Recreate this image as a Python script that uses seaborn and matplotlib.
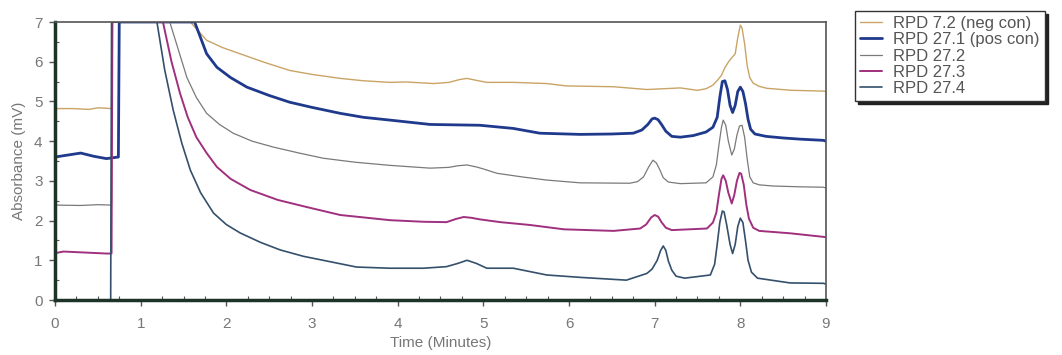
import matplotlib
matplotlib.use("Agg")
import matplotlib.pyplot as plt
import seaborn as sns
import pandas as pd
from matplotlib.ticker import MultipleLocator

# ---------------- data ----------------
labels = ["RPD 7.2 (neg con)", "RPD 27.1 (pos con)", "RPD 27.2", "RPD 27.3", "RPD 27.4"]

t_neg = [0, 0.2, 0.4, 0.5, 0.66, 0.67, 1.58, 1.77, 1.95, 2.16, 2.45, 2.74, 3.0, 3.33, 3.6,
         3.91, 4.1, 4.42, 4.6, 4.72, 4.81, 4.92, 5.04, 5.35, 5.74, 5.97, 6.52, 6.91, 7.3,
         7.5, 7.6, 7.68, 7.74, 7.78, 7.82, 7.86, 7.9, 7.94, 7.97, 8.0, 8.02, 8.05, 8.08,
         8.11, 8.15, 8.22, 8.31, 8.6, 8.97, 9.0]
v_neg = [4.82, 4.82, 4.80, 4.84, 4.82, 7.0, 7.0, 6.54, 6.36, 6.2, 5.98, 5.78, 5.68, 5.58, 5.52,
         5.48, 5.49, 5.45, 5.48, 5.55, 5.58, 5.53, 5.48, 5.48, 5.45, 5.39, 5.37, 5.3, 5.34,
         5.28, 5.32, 5.41, 5.55, 5.66, 5.85, 5.99, 6.1, 6.2, 6.6, 6.92, 6.85, 6.45, 5.9,
         5.6, 5.46, 5.38, 5.33, 5.28, 5.26, 5.25]

t_pos = [0, 0.15, 0.3, 0.45, 0.6, 0.74, 0.75, 1.63, 1.77, 1.89, 2.05, 2.24, 2.5, 2.74, 3.0,
         3.33, 3.6, 3.91, 4.38, 4.96, 5.35, 5.66, 6.13, 6.5, 6.75, 6.85, 6.92, 6.97, 7.0,
         7.04, 7.08, 7.13, 7.2, 7.3, 7.45, 7.6, 7.68, 7.73, 7.76, 7.79, 7.82, 7.85, 7.88,
         7.91, 7.94, 7.97, 8.0, 8.03, 8.06, 8.09, 8.12, 8.17, 8.3, 8.5, 8.7, 8.97, 9.0]
v_pos = [3.6, 3.65, 3.7, 3.62, 3.56, 3.6, 7.0, 7.0, 6.2, 5.86, 5.6, 5.36, 5.15, 4.98, 4.85,
         4.7, 4.6, 4.53, 4.42, 4.4, 4.32, 4.2, 4.17, 4.18, 4.2, 4.28, 4.42, 4.56, 4.58,
         4.54, 4.42, 4.25, 4.12, 4.1, 4.14, 4.23, 4.35, 4.6, 5.1, 5.5, 5.52, 5.3, 4.9,
         4.72, 4.9, 5.25, 5.36, 5.25, 4.95, 4.55, 4.3, 4.18, 4.12, 4.08, 4.05, 4.02, 4.0]

t_272 = [0, 0.3, 0.5, 0.66, 0.67, 1.34, 1.44, 1.54, 1.65, 1.77, 1.92, 2.08, 2.3, 2.55, 2.85,
         3.13, 3.5, 3.91, 4.38, 4.6, 4.7, 4.81, 4.92, 5.0, 5.16, 5.45, 5.74, 6.13, 6.71, 6.8,
         6.87, 6.93, 6.98, 7.02, 7.06, 7.1, 7.16, 7.3, 7.6, 7.68, 7.72, 7.75, 7.78, 7.8,
         7.83, 7.86, 7.9, 7.93, 7.96, 7.99, 8.02, 8.05, 8.08, 8.11, 8.15, 8.22, 8.38, 8.7,
         8.97, 9.0]
v_272 = [2.39, 2.38, 2.4, 2.39, 7.0, 7.0, 6.3, 5.6, 5.1, 4.7, 4.42, 4.2, 4.0, 3.85, 3.7,
         3.57, 3.47, 3.39, 3.32, 3.34, 3.38, 3.4, 3.35, 3.3, 3.19, 3.1, 3.02, 2.95, 2.94, 2.98,
         3.1, 3.35, 3.52, 3.45, 3.28, 3.08, 2.97, 2.93, 2.95, 3.1, 3.4, 3.9, 4.35, 4.53,
         4.4, 4.0, 3.65, 3.8, 4.15, 4.38, 4.4, 4.1, 3.55, 3.1, 2.95, 2.9, 2.87, 2.85,
         2.84, 2.82]

t_273 = [0, 0.1, 0.3, 0.6, 0.66, 0.67, 1.26, 1.36, 1.46, 1.55, 1.65, 1.77, 1.89, 2.05, 2.28,
         2.6, 2.94, 3.33, 3.91, 4.3, 4.57, 4.68, 4.77, 4.86, 4.96, 5.2, 5.54, 5.94, 6.52,
         6.83, 6.9, 6.96, 7.0, 7.04, 7.08, 7.13, 7.2, 7.61, 7.68, 7.72, 7.75, 7.78, 7.8,
         7.83, 7.86, 7.9, 7.93, 7.96, 7.99, 8.01, 8.04, 8.07, 8.1, 8.15, 8.22, 8.58, 8.97,
         9.0]
v_273 = [1.18, 1.22, 1.2, 1.17, 1.17, 7.0, 7.0, 6.0, 5.2, 4.6, 4.1, 3.7, 3.35, 3.05, 2.77,
         2.52, 2.34, 2.14, 2.01, 1.97, 1.96, 2.04, 2.09, 2.07, 2.03, 1.96, 1.89, 1.78, 1.74,
         1.8, 1.9, 2.08, 2.14, 2.1, 1.96, 1.82, 1.76, 1.8, 1.95, 2.2, 2.65, 3.05, 3.14,
         3.0, 2.7, 2.43, 2.65, 3.0, 3.2, 3.18, 2.9, 2.4, 2.05, 1.82, 1.74, 1.68, 1.59,
         1.58]

t_274 = [0, 0.65, 0.66, 1.19, 1.28, 1.38, 1.48, 1.58, 1.7, 1.85, 2.0, 2.16, 2.4, 2.63, 2.9,
         3.13, 3.52, 3.91, 4.3, 4.57, 4.7, 4.81, 4.92, 5.04, 5.35, 5.74, 6.13, 6.67, 6.91,
         6.97, 7.03, 7.07, 7.1, 7.13, 7.16, 7.2, 7.25, 7.35, 7.65, 7.7, 7.73, 7.76, 7.79,
         7.81, 7.84, 7.88, 7.91, 7.94, 7.97, 8.0, 8.03, 8.06, 8.09, 8.13, 8.2, 8.58, 8.97,
         9.0]
v_274 = [0.0, 0.0, 7.0, 7.0, 5.8, 4.78, 3.95, 3.27, 2.7, 2.19, 1.9, 1.69, 1.45, 1.26, 1.1,
         1.0, 0.83, 0.8, 0.8, 0.84, 0.92, 1.0, 0.92, 0.8, 0.8, 0.63, 0.57, 0.5, 0.67,
         0.78, 1.0, 1.25, 1.36, 1.25, 0.98, 0.75, 0.6, 0.55, 0.63, 0.9, 1.4, 1.95, 2.24,
         2.22, 1.9, 1.4, 1.17, 1.4, 1.85, 2.06, 1.95, 1.5, 1.0, 0.7, 0.55, 0.43, 0.42,
         0.4]

x_ticks = list(range(0, 10))
y_ticks = list(range(0, 8))

# ---------------- style ----------------
colors = ["#c9a465", "#1f3a8c", "#7a7a7a", "#a0307e", "#34506c"]
widths = [1.0, 2.0, 0.9, 1.4, 1.2]

sns.set_style("white")
plt.rcParams["font.family"] = ["Liberation Sans", "DejaVu Sans"]

fig = plt.figure(figsize=(10.62, 3.55), dpi=100)
ax = fig.add_axes([55 / 1062, 55 / 355, (826 - 55) / 1062, (300 - 22) / 355])

series = [(t_neg, v_neg), (t_pos, v_pos), (t_272, v_272), (t_273, v_273), (t_274, v_274)]
for (t, v), lab, c, w in zip(series, labels, colors, widths):
    df = pd.DataFrame({"t": t, "v": v})
    sns.lineplot(data=df, x="t", y="v", ax=ax, color=c, lw=w, label=lab,
                 sort=False, estimator=None)

ax.set_xlim(0, 9)
ax.set_ylim(0, 7)
ax.set_xticks(x_ticks)
ax.set_yticks(y_ticks)
ax.xaxis.set_minor_locator(MultipleLocator(0.25))
ax.yaxis.set_minor_locator(MultipleLocator(0.5))
ax.tick_params(axis="both", which="major", direction="out", length=4, width=1,
               color="#555555", labelsize=11, labelcolor="#777777")
ax.tick_params(axis="x", which="major", pad=8)
ax.tick_params(axis="y", which="major", pad=5)
ax.tick_params(axis="both", which="minor", direction="in", length=3, width=0.8,
               color="#555555")
ax.tick_params(axis="both", which="both", bottom=True, left=True)

ax.set_xlabel("Time (Minutes)", fontsize=11, color="#777777", labelpad=4)
ax.set_ylabel("Absorbance (mV)", fontsize=11, color="#777777", labelpad=6)

for side in ["left", "bottom"]:
    ax.spines[side].set_linewidth(2.5)
    ax.spines[side].set_color("#1d3328")
for side in ["top", "right"]:
    ax.spines[side].set_linewidth(1.2)
    ax.spines[side].set_color("#555555")
    ax.spines[side].set_visible(True)

leg = ax.legend(loc="upper left", bbox_to_anchor=(855 / 1062, 1 - 11 / 355),
                bbox_transform=fig.transFigure, frameon=True, fancybox=False,
                shadow={"color": "#222222", "alpha": 1.0}, fontsize=12,
                handlelength=1.3, handletextpad=0.7, borderpad=0.3, labelspacing=0.08,
                borderaxespad=0)
leg.get_frame().set_edgecolor("#333333")
leg.get_frame().set_linewidth(1.0)
for txt in leg.get_texts():
    txt.set_color("#555555")

fig.savefig("out.png", dpi=100)
